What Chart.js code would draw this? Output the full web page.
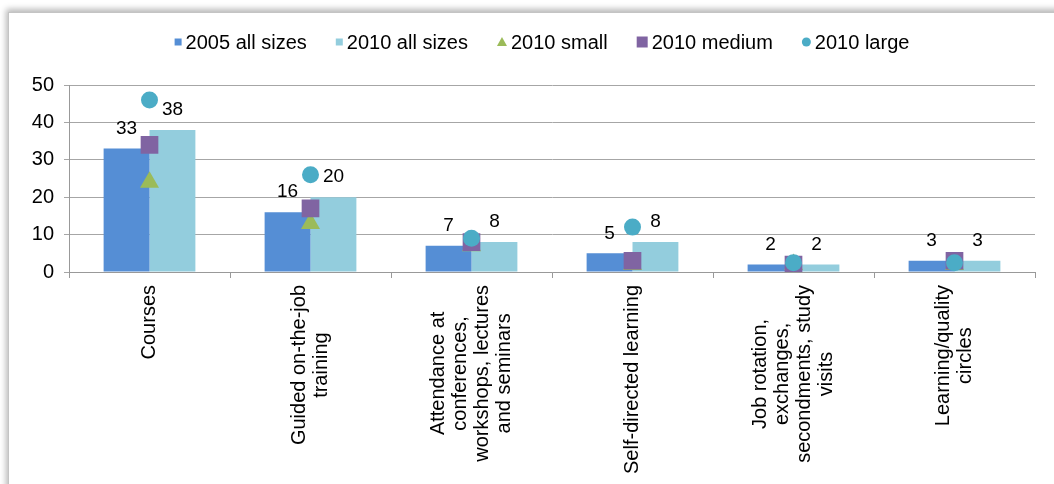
<!DOCTYPE html>
<html>
<head>
<meta charset="utf-8">
<script src="https://cdn.jsdelivr.net/npm/chart.js@4"></script>
<style>
  html, body { margin: 0; padding: 0; background: #fff; overflow: hidden; }
  #wrap { position: relative; width: 1054px; height: 484px; }
  #frame { position: absolute; left: 8px; top: 12px; width: 1100px; height: 520px;
           border: 1px solid #c4c4c4; box-shadow: -2px -3px 6px rgba(0,0,0,0.28); background: #fff; }
  #myChart { position: absolute; left: 0; top: 0; }
</style>
</head>
<body>
<div id="wrap">
  <div id="frame"></div>
  <canvas id="myChart" width="1054" height="484"></canvas>
</div>
<script>
var categories = [
    ['Courses'],
    ['Guided on-the-job', 'training'],
    ['Attendance at', 'conferences,', 'workshops, lectures', 'and seminars'],
    ['Self-directed learning'],
    ['Job rotation,', 'exchanges,', 'secondments, study', 'visits'],
    ['Learning/quality', 'circles']
];
var all2005 = [33, 16, 7, 5, 2, 3];
var all2010 = [38, 20, 8, 8, 2, 3];
var small2010 = [24, 13, 7, 2, 2, 2];
var medium2010 = [34, 17, 8, 3, 2, 3];
var large2010 = [46, 26, 9, 12, 2.5, 2.5];
var yTicks = [0, 10, 20, 30, 40, 50];

var FONT = '"Liberation Sans", Arial, sans-serif';
Chart.defaults.font.family = FONT;
Chart.defaults.color = '#000';

// numbers above the two bar series
var barLabels = {
    id: 'barLabels',
    afterDatasetsDraw: function(chart) {
        var ctx = chart.ctx;
        ctx.save();
        ctx.font = '19px ' + FONT;
        ctx.fillStyle = '#000';
        ctx.textAlign = 'center';
        ctx.textBaseline = 'middle';
        [0, 1].forEach(function(d) {
            chart.getDatasetMeta(d).data.forEach(function(bar, i) {
                ctx.fillText(chart.data.datasets[d].data[i], bar.x, bar.y - 20);
            });
        });
        ctx.restore();
    }
};

// rotated category labels, lines centred on each other like the original
var xLabels = {
    id: 'xLabels',
    afterDraw: function(chart) {
        var ctx = chart.ctx;
        var xs = chart.scales.x;
        var top = chart.chartArea.bottom + 13;
        ctx.save();
        ctx.font = '20px ' + FONT;
        ctx.fillStyle = '#000';
        ctx.textAlign = 'center';
        ctx.textBaseline = 'middle';
        categories.forEach(function(lines, i) {
            var cx = xs.getPixelForValue(i);
            var maxW = Math.max.apply(null, lines.map(function(t) { return ctx.measureText(t).width; }));
            lines.forEach(function(t, j) {
                var off = (j - (lines.length - 1) / 2) * 22;
                ctx.save();
                ctx.translate(cx + off, top + maxW / 2);
                ctx.rotate(-Math.PI / 2);
                ctx.fillText(t, 0, 0);
                ctx.restore();
            });
        });
        ctx.restore();
    }
};

// legend drawn by hand: small markers close to the text
var legendBox = {
    id: 'legendBox',
    afterDraw: function(chart) {
        var ctx = chart.ctx;
        var items = chart.data.datasets;
        var markW = [7, 7, 10, 11, 9];
        ctx.save();
        ctx.font = '20px ' + FONT;
        ctx.textBaseline = 'middle';
        ctx.textAlign = 'left';
        var total = 0;
        items.forEach(function(ds, i) {
            total += markW[i] + 4 + ctx.measureText(ds.label).width + (i < items.length - 1 ? 29 : 0);
        });
        var x = 542 - total / 2;
        var y = 42;
        items.forEach(function(ds, i) {
            var c = ds.legendColor;
            var w = markW[i];
            ctx.fillStyle = c;
            ctx.beginPath();
            if (ds.legendShape === 'triangle') {
                ctx.moveTo(x + w / 2, y - 5);
                ctx.lineTo(x + w, y + 4);
                ctx.lineTo(x, y + 4);
                ctx.closePath();
            } else if (ds.legendShape === 'circle') {
                ctx.arc(x + w / 2, y, w / 2, 0, Math.PI * 2);
            } else {
                ctx.rect(x, y - w / 2, w, w);
            }
            ctx.fill();
            x += w + 4;
            ctx.fillStyle = '#000';
            ctx.fillText(ds.label, x, y + 1);
            x += ctx.measureText(ds.label).width + 29;
        });
        ctx.restore();
    }
};

function markerSet(label, data, color, style, radius, order) {
    return {
        type: 'line',
        label: label,
        data: data,
        showLine: false,
        pointStyle: style,
        pointRadius: radius,
        pointHoverRadius: radius,
        pointBackgroundColor: color,
        pointBorderColor: color,
        pointBorderWidth: 0,
        backgroundColor: color,
        borderColor: color,
        legendColor: color,
        legendShape: style,
        order: order
    };
}

var dataObj = {
    type: 'bar',
    data: {
        labels: categories.map(function(l) { return l.join(' '); }),
        datasets: [
            { label: '2005 all sizes', data: all2005, backgroundColor: '#558ed5', legendColor: '#558ed5', legendShape: 'rect', order: 10 },
            { label: '2010 all sizes', data: all2010, backgroundColor: '#93cddd', legendColor: '#93cddd', legendShape: 'rect', order: 10 },
            markerSet('2010 small', small2010, '#9bbb59', 'triangle', 11, 3),
            markerSet('2010 medium', medium2010, '#8064a2', 'rect', 12.5, 2),
            markerSet('2010 large', large2010, '#4bacc6', 'circle', 8.5, 1)
        ]
    },
    options: {
        responsive: false,
        animation: false,
        datasets: { bar: { categoryPercentage: 0.57, barPercentage: 1.0 } },
        layout: { padding: { left: 0, right: 19, top: 85, bottom: 0 } },
        plugins: {
            tooltip: { enabled: false },
            legend: { display: false }
        },
        scales: {
            x: {
                grid: { drawOnChartArea: false, color: '#999', tickLength: 6 },
                border: { color: '#999' },
                ticks: { display: false },
                afterFit: function(s) { s.height = 212; }
            },
            y: {
                min: 0, max: 50,
                afterBuildTicks: function(s) { s.ticks = yTicks.map(function(v) { return { value: v }; }); },
                grid: { color: '#a6a6a6', tickLength: 5 },
                border: { color: '#999' },
                ticks: { font: { size: 20 }, padding: 10 },
                afterFit: function(s) { s.width = 69; }
            }
        }
    },
    plugins: [barLabels, xLabels, legendBox]
};
var ctx = document.getElementById('myChart').getContext('2d');
window.myChart = new Chart(ctx, dataObj);
</script>
</body>
</html>
